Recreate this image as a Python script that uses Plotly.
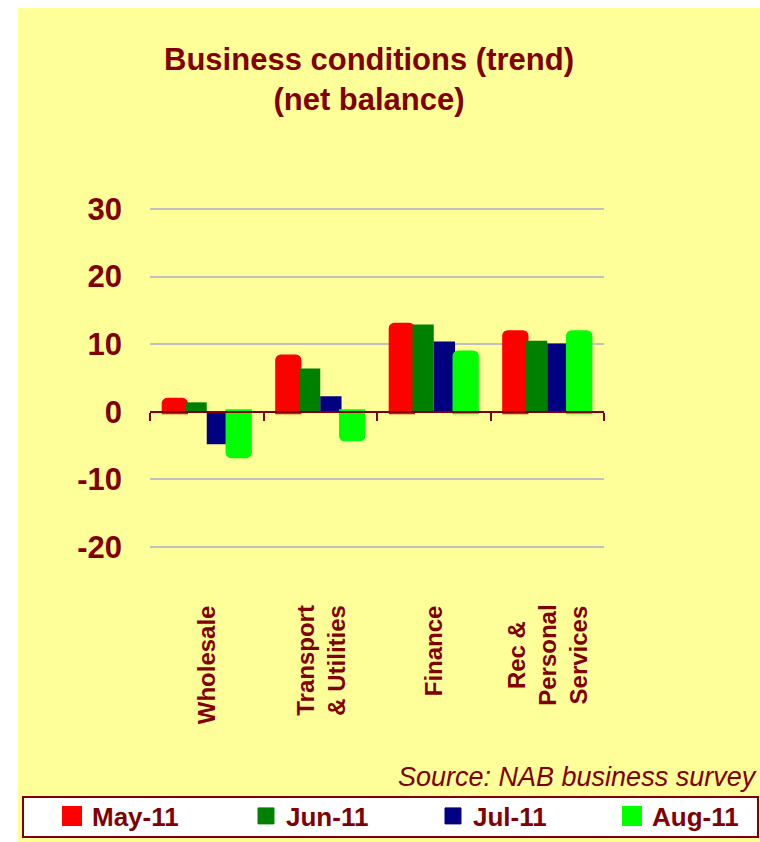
import plotly.graph_objects as go

# Industry groups and monthly net-balance readings (trend)
categories = ["Wholesale", "Transport<br>& Utilities", "Finance", "Rec &<br>Personal<br>Services"]
months = ["May-11", "Jun-11", "Jul-11", "Aug-11"]
may_11 = [1.7, 8.1, 12.8, 11.7]
jun_11 = [1.4, 6.4, 12.9, 10.5]
jul_11 = [-4.8, 2.3, 10.4, 10.1]
aug_11 = [-6.5, -4.0, 8.7, 11.7]
y_ticks = [-20, -10, 0, 10, 20, 30]

series = [may_11, jun_11, jul_11, aug_11]
colors = ["#FF0000", "#008000", "#000080", "#00FF00"]
outline = [5, 0, 0, 5]

MAROON = "#800000"
BG = "#FFFF99"
FONT = "Liberation Sans"

W, H = 760, 842
L, R, T, B = 150, 156, 207, 293
pw, ph = W - L - R, H - T - B


def px_x(p):
    return (p - L) / pw


def px_y(p):
    return (H - B - p) / ph


fig = go.Figure()
for name, vals, col, lw in zip(months, series, colors, outline):
    fig.add_trace(go.Bar(
        x=categories, y=vals, name=name, showlegend=False,
        marker=dict(color=col, line=dict(color=col, width=lw), cornerradius=3 if lw else 0),
    ))

# one legend box per month, laid out along the bottom strip
legend_left = [52, 246, 433, 612]
legend_names = ["legend", "legend2", "legend3", "legend4"]
legend_outline = [4, 1, 1, 4]
for name, col, lg, lw in zip(months, colors, legend_names, legend_outline):
    fig.add_trace(go.Scatter(
        x=[None], y=[None], mode="markers", name=name, legend=lg, showlegend=True,
        marker=dict(symbol="square", size=16, color=col, line=dict(color=col, width=lw)),
    ))

y_lo, y_hi = -20.3, 30.3
zero_pos = (0 - y_lo) / (y_hi - y_lo)

legend_style = dict(
    orientation="h", xref="paper", yref="paper", xanchor="left",
    y=px_y(816), yanchor="middle", bgcolor="rgba(0,0,0,0)", borderwidth=0,
    itemwidth=30, itemsizing="trace",
    font=dict(family=FONT, size=26, color=MAROON, weight="bold"),
)
legend_layout = {lg: dict(legend_style, x=px_x(xl)) for lg, xl in zip(legend_names, legend_left)}

fig.update_layout(
    width=W, height=H,
    margin=dict(l=L, r=R, t=T, b=B, pad=0, autoexpand=False),
    paper_bgcolor="white",
    plot_bgcolor="rgba(0,0,0,0)",
    barmode="group", bargap=0.25, bargroupgap=0,
    font=dict(family=FONT, color=MAROON),
    title=dict(
        text="Business conditions (trend)<br>(net balance)",
        font=dict(family=FONT, size=31, color=MAROON, weight="bold"),
        xref="container", x=369 / W, xanchor="center",
        yref="container", y=1 - 70 / H, yanchor="top",
    ),
    xaxis=dict(
        type="category", anchor="free", position=zero_pos,
        showline=True, linecolor=MAROON, linewidth=2,
        ticks="outside", tickson="boundaries", ticklen=8, tickwidth=2, tickcolor=MAROON,
        showticklabels=False, showgrid=False, zeroline=False, fixedrange=True,
    ),
    yaxis=dict(
        range=[y_lo, y_hi], tickvals=y_ticks, ticktext=[str(v) for v in y_ticks],
        showgrid=True, gridcolor="#C0C0C0", gridwidth=2, zeroline=False,
        showline=False, ticks="", ticklabelstandoff=27,
        tickfont=dict(family=FONT, size=31, color=MAROON, weight="bold"),
    ),
    showlegend=True,
    **legend_layout,
)

# yellow chart panel and the white legend box
fig.add_shape(type="rect", xref="paper", yref="paper",
              x0=px_x(18), x1=px_x(780), y0=px_y(860), y1=px_y(8),
              fillcolor=BG, line=dict(width=0), layer="below")
fig.add_shape(type="rect", xref="paper", yref="paper",
              x0=px_x(23), x1=px_x(758), y0=px_y(837), y1=px_y(797),
              fillcolor="white", line=dict(color=MAROON, width=2), layer="above")

# rotated category labels under the plot
for cat in categories:
    fig.add_annotation(
        x=cat, xref="x", y=px_y(603), yref="paper",
        text=cat, textangle=-90, showarrow=False,
        xanchor="center", yanchor="top", align="center",
        font=dict(family=FONT, size=24, color=MAROON, weight="bold"),
    )

fig.add_annotation(
    x=px_x(396), xref="paper", y=px_y(777), yref="paper",
    text="Source: NAB business survey", showarrow=False,
    xanchor="left", yanchor="middle",
    font=dict(family=FONT, size=27, color=MAROON, style="italic"),
)

fig.write_html("out.html")
